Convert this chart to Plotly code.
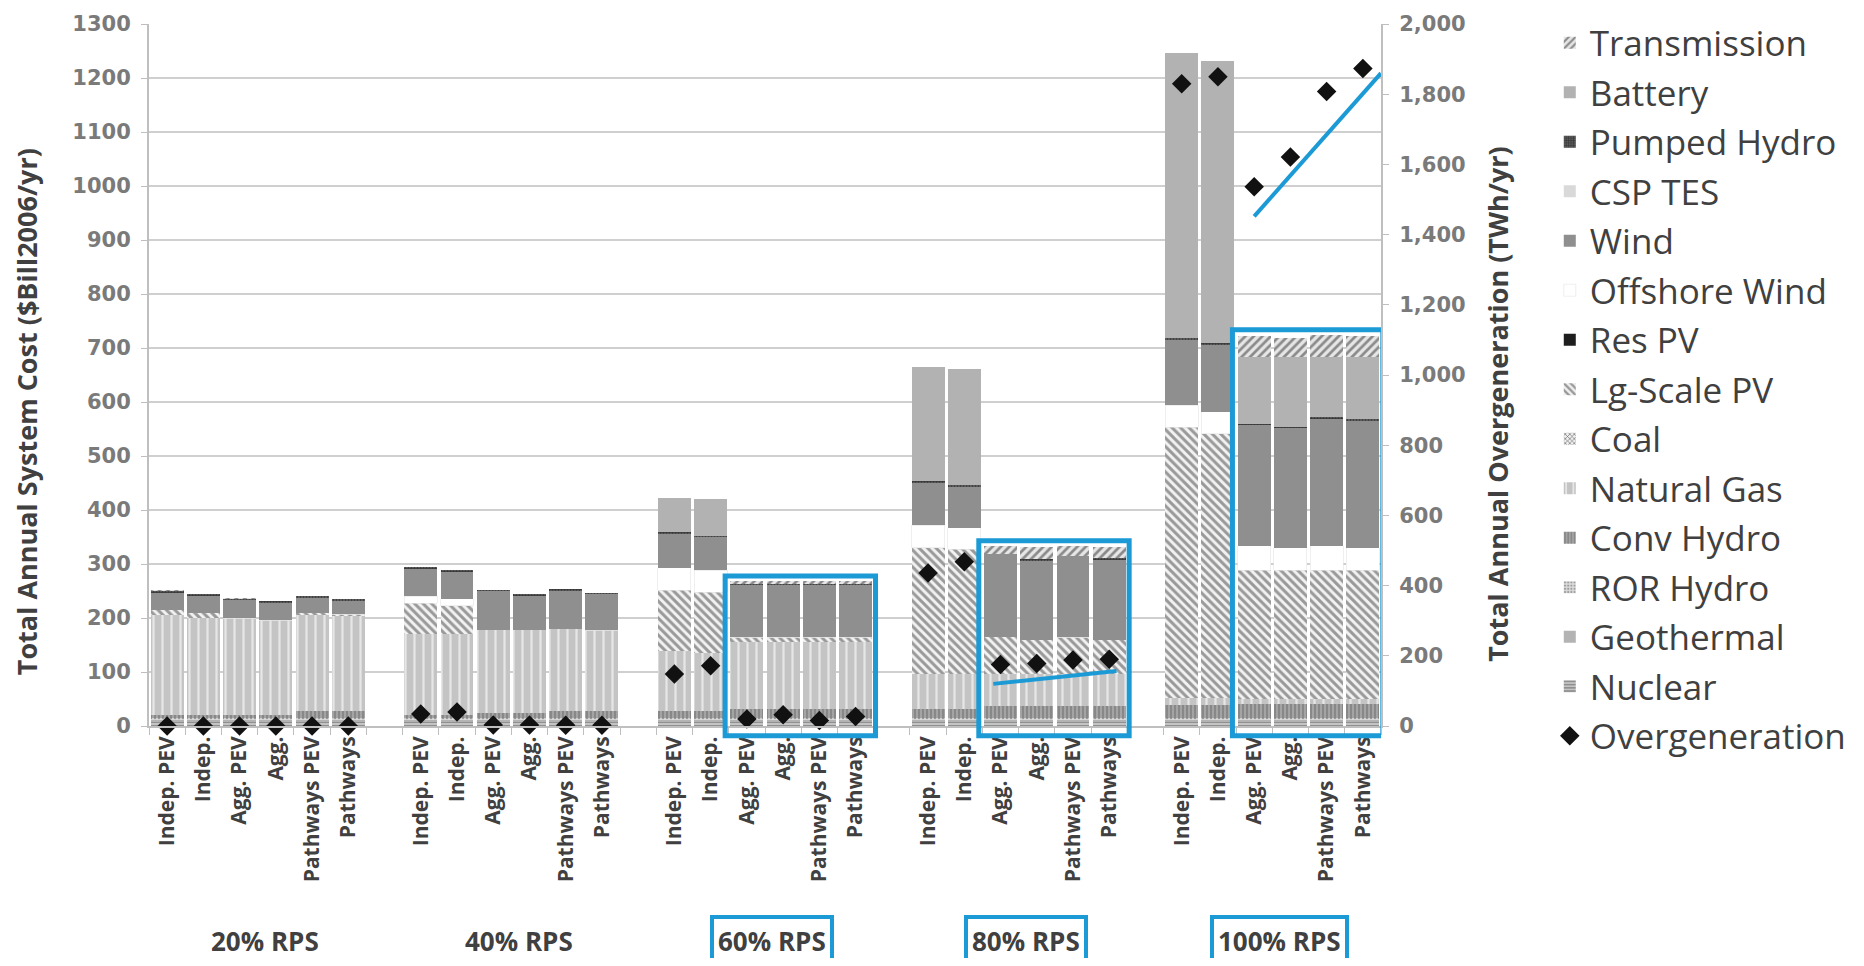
import plotly.graph_objects as go

# categories
scenarios = ["Indep. PEV", "Indep.", "Agg. PEV", "Agg.", "Pathways PEV", "Pathways"]
rps_levels = ["20% RPS", "40% RPS", "60% RPS", "80% RPS", "100% RPS"]
highlighted = ["60% RPS", "80% RPS", "100% RPS"]

# annual system cost by technology ($Bill2006/yr), 6 scenarios per RPS level
nuclear = [8, 8, 8, 8, 8, 8, 8, 8, 8, 8, 8, 8, 8, 8, 8, 8, 8, 8,
           8, 8, 8, 8, 8, 8, 8, 8, 8, 8, 8, 8]
geothermal = [3, 3, 3, 3, 3, 3, 3, 3, 3, 3, 3, 3, 3, 3, 3, 3, 3, 3,
              3, 3, 3, 3, 3, 3, 3, 3, 3, 3, 3, 3]
ror_hydro = [4, 4, 4, 4, 4, 4, 4, 4, 4, 4, 4, 4, 4, 4, 4, 4, 4, 4,
             4, 4, 4, 4, 4, 4, 4, 4, 4, 4, 4, 4]
conv_hydro = [6, 6, 6, 6, 12, 12, 6, 6, 10, 10, 12, 12, 12, 12, 16, 16, 16, 16,
              16, 16, 22, 22, 22, 22, 24, 24, 26, 26, 26, 26]
natural_gas = [184, 179, 179, 175, 178, 176, 149, 149, 153, 153, 153, 150,
               112, 109, 124, 124, 124, 124, 65, 65, 59, 59, 59, 59,
               13, 13, 9, 9, 9, 9]
coal = [0, 0, 0, 0, 0, 0, 0, 0, 0, 0, 0, 0, 0, 0, 0, 0, 0, 0,
        0, 0, 0, 0, 0, 0, 0, 0, 0, 0, 0, 0]
lg_scale_pv = [10, 10, 0, 0, 5, 4, 57, 53, 0, 0, 0, 0, 112, 112, 9, 9, 9, 9,
               234, 231, 69, 64, 68, 64, 501, 489, 238, 238, 238, 238]
res_pv = [0, 0, 0, 0, 0, 0, 0, 0, 0, 0, 0, 0, 0, 0, 0, 0, 0, 0,
          0, 0, 0, 0, 0, 0, 0, 0, 0, 0, 0, 0]
offshore_wind = [0, 0, 0, 0, 0, 0, 13, 13, 0, 0, 0, 0, 42, 40, 0, 0, 0, 0,
                 42, 40, 0, 0, 0, 0, 41, 41, 46, 42, 46, 42]
wind = [33, 31, 35, 33, 28, 25, 51, 50, 72, 64, 71, 68, 64, 62, 98, 98, 98, 98,
        79, 77, 153, 146, 151, 149, 121, 124, 224, 222, 236, 235]
csp_tes = [0, 0, 0, 0, 0, 0, 0, 0, 0, 0, 0, 0, 0, 0, 0, 0, 0, 0,
           0, 0, 0, 0, 0, 0, 0, 0, 0, 0, 0, 0]
pumped_hydro = [2, 2, 1, 1, 2, 2, 2, 2, 1, 1, 1, 1, 2, 2, 1, 1, 1, 1,
                3, 3, 0, 3, 0, 3, 3, 3, 2, 2, 3, 3]
battery = [0, 0, 0, 0, 0, 0, 0, 0, 0, 0, 0, 0, 64, 69, 0, 0, 0, 0,
           210, 215, 0, 0, 0, 0, 528, 522, 124, 130, 111, 116]
transmission = [1, 0, 1, 0, 0, 0, 0, 0, 0, 0, 0, 0, 0, 0, 5, 5, 5, 5,
                0, 0, 15, 22, 18, 19, 0, 0, 38, 35, 40, 38]

# overgeneration (TWh/yr), right axis
overgeneration = [0, 0, 0, 0, 0, 0, 34, 40, 3, 3, 2, 2, 148, 172, 20, 32, 16, 27,
                  436, 468, 175, 178, 188, 190, 1830, 1850, 1536, 1621, 1808, 1873]

# hand-drawn trend lines (slot offset from first bar, TWh/yr)
trend_80_x = [2 - 0.2, 5 + 0.2]
trend_80_y = [120, 157]
trend_100_x = [2, 5 + 0.5]
trend_100_y = [1452, 1860]

BLUE = "#1b9ad6"
FONT = "Open Sans"
TXT = "#404040"
AXC = "#bfbfbf"

# bar positions: 6 bars per level plus one empty slot between levels
slot = len(scenarios) + 1
xpos = [g * slot + j for g in range(len(rps_levels)) for j in range(len(scenarios))]
tick_text = scenarios * len(rps_levels)

# (name, values, color, pattern shape, pattern fg, pattern size, solidity), bottom first
series = [
    ("Nuclear", nuclear, "#c4c4c4", "-", "#7a7a7a", 4, 0.35),
    ("Geothermal", geothermal, "#b3b3b3", "", None, None, None),
    ("ROR Hydro", ror_hydro, "#dadada", ".", "#9a9a9a", 4, 0.35),
    ("Conv Hydro", conv_hydro, "#a4a4a4", "|", "#7c7c7c", 4, 0.35),
    ("Natural Gas", natural_gas, "#c4c4c4", "|", "#e6e6e6", 9, 0.25),
    ("Coal", coal, "#efefef", "x", "#666666", 4, 0.35),
    ("Lg-Scale PV", lg_scale_pv, "#f2f2f2", "\\", "#999999", 6, 0.5),
    ("Res PV", res_pv, "#1e1e1e", "", None, None, None),
    ("Offshore Wind", offshore_wind, "#ffffff", "", None, None, None),
    ("Wind", wind, "#8f8f8f", "", None, None, None),
    ("CSP TES", csp_tes, "#d9d9d9", "", None, None, None),
    ("Pumped Hydro", pumped_hydro, "#5a5a5a", "+", "#2e2e2e", 3, 0.35),
    ("Battery", battery, "#b2b2b2", "", None, None, None),
    ("Transmission", transmission, "#e6e6e6", "/", "#8a8a8a", 6, 0.45),
]

fig = go.Figure()
n = len(series)
for k, (name, vals, color, shape, fg, size, sol) in enumerate(series):
    marker = dict(color=color, line=dict(width=0))
    if shape:
        marker["pattern"] = dict(shape=shape, fgcolor=fg, bgcolor=color,
                                 size=size, solidity=sol, fillmode="replace")
    if name == "Offshore Wind":
        marker["line"] = dict(width=0.6, color="#e4e4e4")
    fig.add_trace(go.Bar(x=xpos, y=vals, name=name, marker=marker,
                         legendgroup=name, legendrank=n - k,
                         hovertemplate=name + ": %{y}<extra></extra>"))

fig.add_trace(go.Scatter(x=xpos, y=overgeneration, yaxis="y2", mode="markers",
                         name="Overgeneration", legendgroup="og", legendrank=n + 1,
                         cliponaxis=False,
                         marker=dict(symbol="diamond", size=15, color="#111111")))

g80 = rps_levels.index("80% RPS") * slot
g100 = rps_levels.index("100% RPS") * slot
fig.add_trace(go.Scatter(x=[g80 + v for v in trend_80_x], y=trend_80_y, yaxis="y2",
                         mode="lines", line=dict(color=BLUE, width=4),
                         showlegend=False, hoverinfo="skip"))
fig.add_trace(go.Scatter(x=[g100 + v for v in trend_100_x], y=trend_100_y, yaxis="y2",
                         mode="lines", line=dict(color=BLUE, width=4),
                         showlegend=False, hoverinfo="skip"))

YMAX = 1300
totals = [sum(s[1][i] for s in series) for i in range(len(xpos))]

shapes = []
annotations = [
    dict(text="<b>Total Annual System Cost ($Bill2006/yr)</b>", textangle=-90,
         x=-0.0998, y=0.447, xref="paper", yref="paper", showarrow=False,
         xanchor="center", yanchor="middle", font=dict(family=FONT, size=27, color=TXT)),
    dict(text="<b>Total Annual Overgeneration (TWh/yr)</b>", textangle=-90,
         x=1.095, y=0.459, xref="paper", yref="paper", showarrow=False,
         xanchor="center", yanchor="middle", font=dict(family=FONT, size=27, color=TXT)),
]
for g, level in enumerate(rps_levels):
    boxed = level in highlighted
    annotations.append(dict(
        x=g * slot + (len(scenarios) - 1) / 2 + 0.2, y=-0.306, xref="x", yref="paper",
        text="<b>" + level + "</b>", showarrow=False, yanchor="middle",
        font=dict(family=FONT, size=26, color=TXT),
        bordercolor=BLUE if boxed else "rgba(0,0,0,0)",
        borderwidth=4 if boxed else 0, borderpad=4))
    if boxed:
        # box around the Agg./Pathways bars of this level
        idx = [g * len(scenarios) + j for j in range(2, len(scenarios))]
        top = max(totals[i] for i in idx) + 10
        shapes.append(dict(type="rect", xref="x", yref="paper",
                           x0=xpos[idx[0]] - 0.6, x1=xpos[idx[-1]] + 0.55,
                           y0=-0.014, y1=top / YMAX,
                           line=dict(color=BLUE, width=5), layer="above"))

tick_font = dict(family="DejaVu Sans", size=21, color="#7a7a7a", weight="bold")

# page body adds an 8px offset, so the figure is 16px smaller than the window
fig.update_layout(
    width=1848, height=950,
    margin=dict(l=141, r=475, t=16, b=232, autoexpand=False),
    barmode="stack", bargap=0.09,
    plot_bgcolor="white", paper_bgcolor="white",
    font=dict(family=FONT, color=TXT),
    xaxis=dict(range=[-0.5, xpos[-1] + 0.5], tickvals=xpos, ticktext=tick_text,
               tickangle=-90, ticks="", showgrid=False, automargin=False,
               tickfont=dict(family=FONT, size=21, color=TXT, weight="bold"),
               showline=True, linecolor=AXC, linewidth=2,
               minor=dict(ticks="outside", tick0=0.5, dtick=1, ticklen=7,
                          tickcolor=AXC, showgrid=False)),
    yaxis=dict(range=[0, YMAX], dtick=100, showgrid=True, gridcolor="#cfcfcf",
               gridwidth=2, zeroline=False, showline=True, linecolor=AXC,
               linewidth=2, ticks="outside", ticklen=6, tickcolor=AXC,
               ticklabelstandoff=6, automargin=False, tickfont=tick_font),
    yaxis2=dict(range=[0, 2000], dtick=200, tickformat=",", overlaying="y", side="right",
                showgrid=False, zeroline=False, showline=True, linecolor=AXC,
                linewidth=2, ticks="outside", ticklen=6, tickcolor=AXC,
                ticklabelstandoff=6, automargin=False, tickfont=tick_font),
    legend=dict(x=1.137, y=1.015, xanchor="left", yanchor="top",
                traceorder="grouped", tracegroupgap=1, maxheight=950,
                font=dict(family=FONT, size=35, color=TXT),
                bgcolor="rgba(0,0,0,0)"),
    shapes=shapes,
    annotations=annotations,
)

fig.write_html("out.html")
